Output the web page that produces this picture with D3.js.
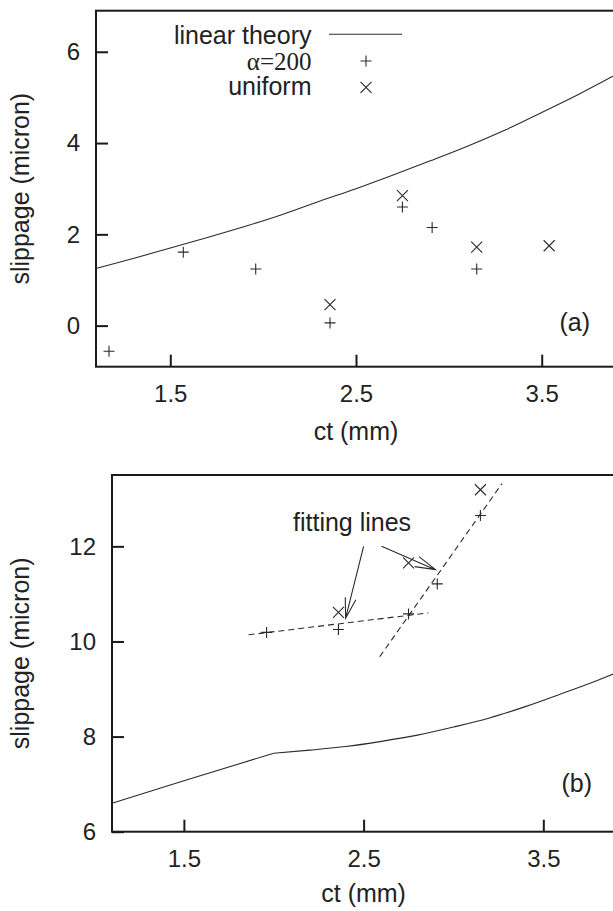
<!DOCTYPE html>
<html>
<head>
<meta charset="utf-8">
<script src="https://cdn.jsdelivr.net/npm/d3@7"></script>
<style>
  html, body { margin: 0; padding: 0; background: #fff; overflow: hidden; }
  svg { display: block; }
  .tick text { font-family: "Liberation Sans", Arial, sans-serif; font-size: 24px; fill: #222; }
  .tick line { stroke: #1a1a1a; stroke-width: 2; }
  .label { font-family: "Liberation Sans", Arial, sans-serif; font-size: 25px; fill: #222; }
  .serif { font-family: "Liberation Serif", "Times New Roman", serif; }
</style>
</head>
<body>
<div id="chart"></div>
<script>
// ---- panel (a) ----
const ctTheoryA    = [1.1, 1.3, 1.5, 1.7, 1.9, 2.1, 2.3, 2.5, 2.7, 2.9, 3.1, 3.3, 3.5, 3.7, 3.9];
const slipTheoryA  = [1.25, 1.47, 1.70, 1.93, 2.17, 2.43, 2.72, 3.00, 3.30, 3.61, 3.93, 4.28, 4.67, 5.07, 5.50];
const ctAlphaA     = [1.17, 1.57, 1.96, 2.36, 2.75, 2.91, 3.15];
const slipAlphaA   = [-0.56, 1.61, 1.24, 0.06, 2.60, 2.15, 1.24];
const ctUniformA   = [2.36, 2.75, 3.15, 3.54];
const slipUniformA = [0.46, 2.85, 1.72, 1.75];
const yTicksA      = [0, 2, 4, 6];

// ---- panel (b) ----
const ctTheoryB    = [1.1, 1.5, 2.0, 2.2, 2.4, 2.6, 2.8, 3.0, 3.2, 3.4, 3.6, 3.8, 3.9];
const slipTheoryB  = [6.60, 7.07, 7.65, 7.715, 7.79, 7.90, 8.03, 8.20, 8.39, 8.63, 8.90, 9.18, 9.33];
const kinkIndexB   = 2; // straight up to ct = 2.0, smooth after
const ctAlphaB     = [1.96, 2.36, 2.75, 2.91, 3.15];
const slipAlphaB   = [10.19, 10.25, 10.58, 11.21, 12.65];
const ctUniformB   = [2.36, 2.75, 3.15];
const slipUniformB = [10.61, 11.65, 13.19];
const yTicksB      = [6, 8, 10, 12];
const fitLines     = [[[1.86, 10.14], [2.86, 10.60]], [[2.59, 9.68], [3.27, 13.32]]];
const fitArrows    = [[2.50, 12.0, 2.40, 10.49], [2.60, 12.0, 2.90, 11.51]];

const xTicks       = [1.5, 2.5, 3.5];
const legendLabels = ["linear theory", "α=200", "uniform"];

const ink = "#2a2a2a";
const width = 613, height = 911;

const svg = d3.select("#chart").append("svg")
    .attr("width", width)
    .attr("height", height);

function zip(xs, ys) { return xs.map((v, i) => [v, ys[i]]); }

function drawPanel(cfg) {
    const x = d3.scaleLinear().domain([1.1, 3.9]).range(cfg.xRange);
    const y = d3.scaleLinear().domain(cfg.yDomain).range(cfg.yRange);
    const g = svg.append("g");

    // axes with inward ticks
    const xAxis = g.append("g")
        .attr("transform", `translate(0,${cfg.yRange[0]})`)
        .call(d3.axisBottom(x).tickValues(xTicks).tickFormat(d3.format(".1f"))
            .tickSizeInner(-12).tickSizeOuter(0).tickPadding(18));
    xAxis.select(".domain").remove();
    xAxis.attr("font-size", null).attr("font-family", null);

    const yAxis = g.append("g")
        .attr("transform", `translate(${cfg.xRange[0]},0)`)
        .call(d3.axisLeft(y).tickValues(cfg.yTicks).tickFormat(d3.format("d"))
            .tickSizeInner(-12).tickSizeOuter(0).tickPadding(16));
    yAxis.select(".domain").remove();
    yAxis.attr("font-size", null).attr("font-family", null);

    // frame
    g.append("rect")
        .attr("x", cfg.xRange[0]).attr("y", cfg.yRange[1])
        .attr("width", cfg.xRange[1] - cfg.xRange[0])
        .attr("height", cfg.yRange[0] - cfg.yRange[1])
        .attr("fill", "none").attr("stroke", "#1a1a1a").attr("stroke-width", 2);

    // axis labels
    g.append("text").attr("class", "label")
        .attr("x", (cfg.xRange[0] + cfg.xRange[1]) / 2)
        .attr("y", cfg.xLabelY)
        .attr("text-anchor", "middle")
        .text("ct (mm)");

    g.append("text").attr("class", "label")
        .attr("transform", `translate(29,${(cfg.yRange[0] + cfg.yRange[1]) / 2}) rotate(-90)`)
        .attr("text-anchor", "middle")
        .text("slippage (micron)");

    g.append("text").attr("class", "label")
        .attr("x", cfg.tag[0]).attr("y", cfg.tag[1])
        .attr("text-anchor", "end")
        .text(cfg.tagText);

    return { x, y, g };
}

function plusMarks(g, pts, x, y, s = 5.5) {
    g.selectAll(null).data(pts).enter().append("path")
        .attr("d", d => `M${x(d[0]) - s},${y(d[1])}h${2 * s}M${x(d[0])},${y(d[1]) - s}v${2 * s}`)
        .attr("stroke", ink).attr("stroke-width", 1.1).attr("fill", "none");
}

function timesMarks(g, pts, x, y, s = 5.5) {
    g.selectAll(null).data(pts).enter().append("path")
        .attr("d", d => `M${x(d[0]) - s},${y(d[1]) - s}l${2 * s},${2 * s}M${x(d[0]) - s},${y(d[1]) + s}l${2 * s},${-2 * s}`)
        .attr("stroke", ink).attr("stroke-width", 1.1).attr("fill", "none");
}

// ---------- panel (a) ----------
const a = drawPanel({
    xRange: [96, 616], yDomain: [-0.9, 6.9], yRange: [366.7, 10.7],
    yTicks: yTicksA, xLabelY: 440, tag: [590, 331], tagText: "(a)"
});

a.g.append("path")
    .datum(zip(ctTheoryA, slipTheoryA))
    .attr("fill", "none").attr("stroke", ink).attr("stroke-width", 1.1)
    .attr("d", d3.line().x(d => a.x(d[0])).y(d => a.y(d[1])).curve(d3.curveMonotoneX));

plusMarks(a.g, zip(ctAlphaA, slipAlphaA), a.x, a.y);
timesMarks(a.g, zip(ctUniformA, slipUniformA), a.x, a.y);

// legend (gnuplot style: right-aligned text, sample to the right)
const legend = a.g.append("g");
const rowY = [44, 69.5, 95];
legendLabels.forEach((txt, i) => {
    legend.append("text")
        .attr("class", i === 1 ? "label serif" : "label")
        .attr("x", 311.5).attr("y", rowY[i])
        .attr("text-anchor", "end")
        .text(txt);
});
legend.append("line")
    .attr("x1", 329).attr("x2", 402).attr("y1", 34.3).attr("y2", 34.3)
    .attr("stroke", ink).attr("stroke-width", 1.1);
legend.append("path")
    .attr("d", "M360.5,61h11M366,55.5v11M360.5,81.8l11,11M360.5,92.8l11,-11")
    .attr("stroke", ink).attr("stroke-width", 1.1).attr("fill", "none");

// ---------- panel (b) ----------
const b = drawPanel({
    xRange: [112, 615.2], yDomain: [6, 13.5], yRange: [831.7, 475],
    yTicks: yTicksB, xLabelY: 902, tag: [592, 791.5], tagText: "(b)"
});

const theoryB = zip(ctTheoryB, slipTheoryB);
b.g.append("path")
    .datum(theoryB.slice(0, kinkIndexB + 1))
    .attr("fill", "none").attr("stroke", ink).attr("stroke-width", 1.1)
    .attr("d", d3.line().x(d => b.x(d[0])).y(d => b.y(d[1])));
b.g.append("path")
    .datum(theoryB.slice(kinkIndexB))
    .attr("fill", "none").attr("stroke", ink).attr("stroke-width", 1.1)
    .attr("d", d3.line().x(d => b.x(d[0])).y(d => b.y(d[1])).curve(d3.curveMonotoneX));

// dashed fitting lines
fitLines.forEach(seg => {
    b.g.append("line")
        .attr("x1", b.x(seg[0][0])).attr("y1", b.y(seg[0][1]))
        .attr("x2", b.x(seg[1][0])).attr("y2", b.y(seg[1][1]))
        .attr("stroke", ink).attr("stroke-width", 1.1)
        .attr("stroke-dasharray", "6,4");
});

plusMarks(b.g, zip(ctAlphaB, slipAlphaB), b.x, b.y);
timesMarks(b.g, zip(ctUniformB, slipUniformB), b.x, b.y);

// annotation + open arrows
b.g.append("text").attr("class", "label")
    .attr("x", 293).attr("y", 531)
    .text("fitting lines");

fitArrows.forEach(([x0, y0, x1, y1]) => {
    const px0 = b.x(x0), py0 = b.y(y0), px1 = b.x(x1), py1 = b.y(y1);
    const ang = Math.atan2(py0 - py1, px0 - px1);
    const len = 21, spread = 15 * Math.PI / 180;
    const h1 = [px1 + len * Math.cos(ang + spread), py1 + len * Math.sin(ang + spread)];
    const h2 = [px1 + len * Math.cos(ang - spread), py1 + len * Math.sin(ang - spread)];
    b.g.append("path")
        .attr("d", `M${px0},${py0}L${px1},${py1}M${h1[0]},${h1[1]}L${px1},${py1}L${h2[0]},${h2[1]}`)
        .attr("stroke", ink).attr("stroke-width", 1.1).attr("fill", "none");
});
</script>
</body>
</html>
